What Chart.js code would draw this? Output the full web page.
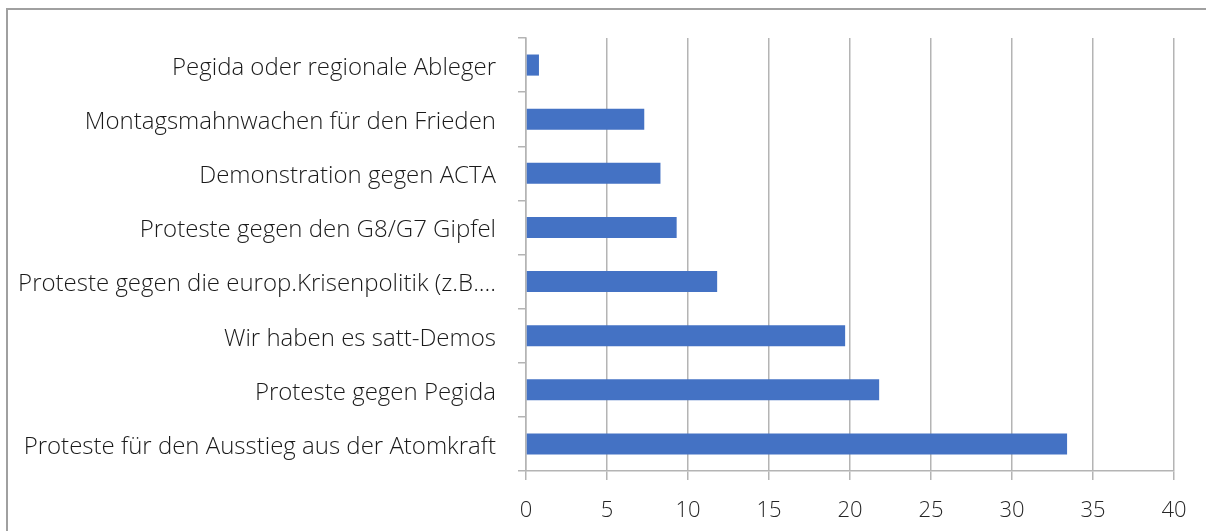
<!DOCTYPE html>
<html>
<head>
<meta charset="utf-8">
<script src="https://cdn.jsdelivr.net/npm/chart.js"></script>
<style>
  html, body { margin: 0; padding: 0; background: #fff; overflow: hidden; }
  #frame { position: absolute; left: 0; top: 0; width: 1206px; height: 531px; }
  #border { position: absolute; left: 6px; top: 8px; width: 1400px; height: 800px;
            border: 2px solid #a0a0a0; box-sizing: border-box; }
  #chart { position: absolute; left: 0; top: 0; }
</style>
</head>
<body>
<div id="frame">
  <div id="border"></div>
  <canvas id="chart" width="1206" height="531"></canvas>
</div>
<script>
// Kategorien, von oben nach unten
const categories = [
  'Pegida oder regionale Ableger',
  'Montagsmahnwachen für den Frieden',
  'Demonstration gegen ACTA',
  'Proteste gegen den G8/G7 Gipfel',
  'Proteste gegen die europ.Krisenpolitik (z.B....',
  'Wir haben es satt-Demos',
  'Proteste gegen Pegida',
  'Proteste für den Ausstieg aus der Atomkraft'
];
const values = [0.8, 7.3, 8.3, 9.3, 11.8, 19.7, 21.8, 33.4];
const xTicks = [0, 5, 10, 15, 20, 25, 30, 35, 40];

const FONT = '"Open Sans", "Noto Sans", sans-serif';
const GRID = '#b4b4b4';

new Chart(document.getElementById('chart'), {
  type: 'bar',
  data: {
    labels: categories,
    datasets: [{
      data: values,
      backgroundColor: '#4472C4',
      categoryPercentage: 1,
      barPercentage: 0.39
    }]
  },
  options: {
    indexAxis: 'y',
    responsive: false,
    animation: false,
    layout: { padding: { top: 38, right: 32, left: 0, bottom: 0 } },
    plugins: { legend: { display: false }, tooltip: { enabled: false } },
    scales: {
      x: {
        min: 0, max: 40,
        afterBuildTicks: ax => { ax.ticks = xTicks.map(v => ({ value: v })); },
        afterFit: ax => { ax.height = 60; },
        grid: { color: GRID, lineWidth: 1.5, tickLength: 9 },
        border: { color: GRID, width: 1.5 },
        ticks: { color: '#262626', font: { family: FONT, size: 22, weight: 300 }, padding: 18 }
      },
      y: {
        afterFit: ax => { ax.width = 526; },
        grid: { drawOnChartArea: false, color: GRID, lineWidth: 1.5, tickLength: 8, offset: true },
        border: { color: GRID, width: 1.5 },
        ticks: { color: '#1a1a1a', font: { family: FONT, size: 24, weight: 300 }, padding: 22, labelOffset: 3 }
      }
    }
  }
});
</script>
</body>
</html>
